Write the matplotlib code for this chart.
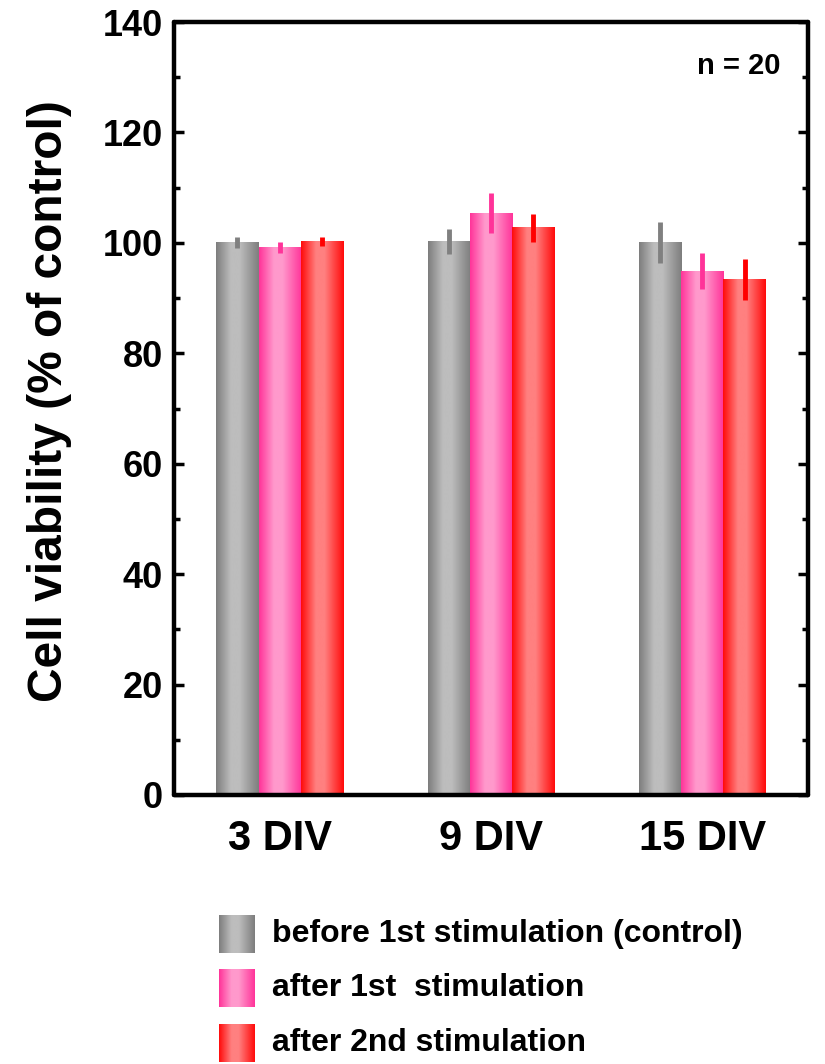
import numpy as np
import matplotlib
matplotlib.use("Agg")
import matplotlib.pyplot as plt
from matplotlib.colors import LinearSegmentedColormap

# ---- data ----
groups = ["3 DIV", "9 DIV", "15 DIV"]
series = ["before 1st stimulation (control)", "after 1st  stimulation", "after 2nd stimulation"]
before_1st = [100.0, 100.2, 100.0]
before_1st_err = [1.0, 2.3, 3.7]
after_1st = [99.2, 105.4, 94.9]
after_1st_err = [1.0, 3.6, 3.2]
after_2nd = [100.3, 102.7, 93.3]
after_2nd_err = [0.8, 2.5, 3.7]
y_ticks = [0, 20, 40, 60, 80, 100, 120, 140]
annotation = "n = 20"

values = [before_1st, after_1st, after_2nd]
errors = [before_1st_err, after_1st_err, after_2nd_err]

edge_cols = ["#7d7d7d", "#ff3399", "#ff0a0a"]
mid_cols = ["#bdbdbd", "#ff99cc", "#ff8080"]
err_cols = ["#808080", "#ff3399", "#ff0000"]

plt.rcParams['font.family'] = ['Liberation Sans', 'DejaVu Sans']
plt.rcParams['font.weight'] = 'bold'

def make_cmap(i):
    return LinearSegmentedColormap.from_list(
        f"g{i}", [(0.0, edge_cols[i]), (0.35, mid_cols[i]), (0.55, mid_cols[i]),
                  (1.0, edge_cols[i])])

grad = np.linspace(0, 1, 256).reshape(1, -1)

def fill_gradient(ax, rect, cmap, zorder=2):
    x0, y0 = rect.get_x(), rect.get_y()
    w, h = rect.get_width(), rect.get_height()
    ax.imshow(grad, cmap=cmap, extent=[x0, x0 + w, y0, y0 + h],
              aspect='auto', interpolation='bilinear', zorder=zorder)

fig = plt.figure(figsize=(8.25, 10.64), dpi=100)
ax = fig.add_axes([174/825, 1 - 795/1064, (808-174)/825, (795-22)/1064])

x = np.arange(1, len(groups) + 1)
width = 0.2
offsets = [-width, 0.0, width]

for i in range(3):
    bars = ax.bar(x + offsets[i], values[i], width=width, color='none', edgecolor='none', zorder=1)
    cm = make_cmap(i)
    for r in bars:
        fill_gradient(ax, r, cm)
    ax.errorbar(x + offsets[i], values[i], yerr=errors[i], fmt='none',
                ecolor=err_cols[i], elinewidth=3.5, capsize=0, zorder=3)

ax.set_xlim(0.5, 3.5)
ax.set_ylim(0, 140)
ax.set_yticks(y_ticks)
ax.set_yticks(np.arange(10, 140, 20), minor=True)
ax.set_xticks(x)
ax.set_xticklabels(groups, fontsize=30, fontweight='bold')
ax.tick_params(axis='x', length=0, pad=17)
ax.tick_params(axis='y', which='major', direction='in', length=7, width=2.5,
               right=True, labelsize=26, pad=8)
ax.tick_params(axis='y', which='minor', direction='in', length=4, width=2.5, right=True)
for lab in ax.get_yticklabels():
    lab.set_fontweight('bold')
for s in ax.spines.values():
    s.set_linewidth(3.2)
    s.set_capstyle('round')

ax.set_ylabel("Cell viability (% of control)", fontsize=34.5, fontweight='bold', va='center')
ax.yaxis.set_label_coords(-0.196, 0.51)

ax.text(0.956, 0.943, annotation, transform=ax.transAxes, ha='right', va='center',
        fontsize=21, fontweight='bold')

# ---- legend (manual, gradient swatches) ----
lax = fig.add_axes([0, 0, 1, 1], zorder=-1)
lax.axis('off')
row_y = [934, 988, 1043]
for i, name in enumerate(series):
    yc = row_y[i]
    lax.imshow(grad, cmap=make_cmap(i), extent=[219, 255, yc + 19, yc - 19],
               aspect='auto', interpolation='bilinear')
    lax.text(272, yc, name, ha='left', va='center', fontsize=23, fontweight='bold')
lax.set_xlim(0, 825)
lax.set_ylim(1064, 0)

fig.savefig("out.png", dpi=100)
